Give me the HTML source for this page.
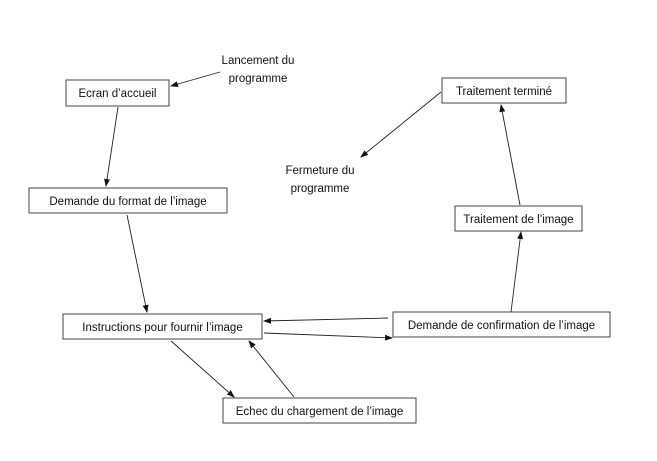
<!DOCTYPE html>
<html><head><meta charset="utf-8"><style>
body{margin:0;background:#fff;width:657px;height:461px;overflow:hidden}
svg{display:block}
text{font-family:"Liberation Sans",sans-serif;font-size:11.5px;fill:#111}
rect{fill:#fff;stroke:#444;stroke-width:1}
line{stroke:#222;stroke-width:0.9}
</style></head><body>
<svg width="657" height="461" viewBox="0 0 657 461">
<defs><marker id="a" markerWidth="8" markerHeight="6" refX="7" refY="3" orient="auto" markerUnits="userSpaceOnUse"><path d="M0,0 L8,3 L0,6z" fill="#111"/></marker></defs>
<rect x="66" y="80" width="103" height="26"/>
<text x="117.5" y="97" text-anchor="middle">Ecran d’accueil</text>
<rect x="29" y="188" width="198" height="25"/>
<text x="128" y="205" text-anchor="middle">Demande du format de l’image</text>
<rect x="63" y="314" width="199" height="25"/>
<text x="162.5" y="331" text-anchor="middle">Instructions pour fournir l’image</text>
<rect x="393" y="312" width="217" height="25"/>
<text x="501.5" y="329" text-anchor="middle">Demande de confirmation de l’image</text>
<rect x="223" y="398" width="193" height="25"/>
<text x="319.5" y="415" text-anchor="middle">Echec du chargement de l’image</text>
<rect x="455" y="206" width="127" height="25"/>
<text x="518.5" y="223" text-anchor="middle">Traitement de l’image</text>
<rect x="442" y="78" width="124" height="25"/>
<text x="504" y="95" text-anchor="middle">Traitement terminé</text>
<text x="258" y="64" text-anchor="middle">Lancement du</text>
<text x="258" y="82" text-anchor="middle">programme</text>
<text x="320" y="174" text-anchor="middle">Fermeture du</text>
<text x="320" y="192" text-anchor="middle">programme</text>
<g marker-end="url(#a)">
<line x1="220" y1="72" x2="171" y2="86"/>
<line x1="118" y1="107" x2="106" y2="186"/>
<line x1="127" y1="215" x2="147" y2="312"/>
<line x1="388" y1="318" x2="264" y2="321"/>
<line x1="264" y1="333" x2="392" y2="338"/>
<line x1="171" y1="341" x2="234" y2="397"/>
<line x1="294" y1="397" x2="249" y2="341"/>
<line x1="511" y1="312" x2="521" y2="232"/>
<line x1="520" y1="205" x2="501" y2="105"/>
<line x1="441" y1="92" x2="361" y2="157"/>
</g>
</svg>
</body></html>
